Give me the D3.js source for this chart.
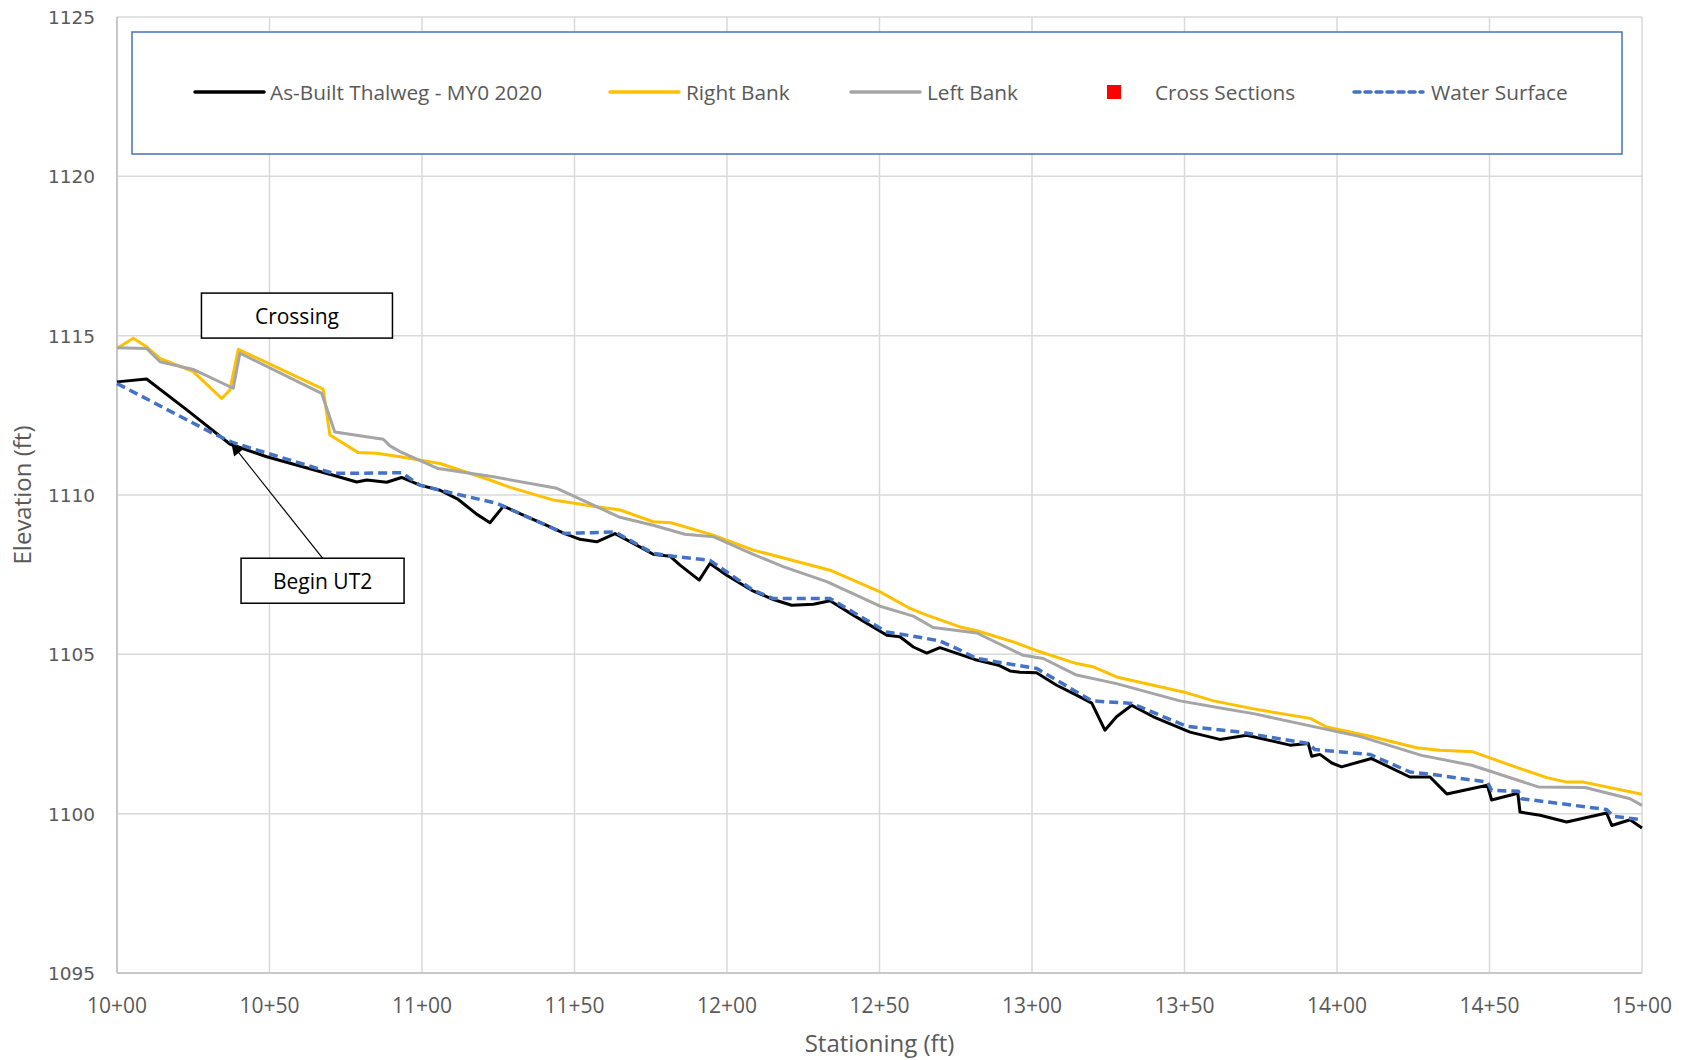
<!DOCTYPE html>
<html>
  <head>
    <script src="https://d3js.org/d3.v7.min.js"></script>
    <style>
      body { margin: 0; background: #fff; }
      text { font-family: "Open Sans", sans-serif; fill: #595959; }
      .grid line { stroke: #d9d9d9; stroke-width: 1.5px; }
      .series { fill: none; stroke-linejoin: round; }
    </style>
  </head>
  <body>
    <svg id="chart" width="1685" height="1060"></svg>

    <script>
      // station (ft) / elevation (ft) pairs
      const thalweg = [
        [1000,1113.55],[1009.7,1113.64],[1022.9,1112.67],[1037.0,1111.60],[1049.1,1111.20],[1070.9,1110.62],
        [1078.6,1110.41],[1081.9,1110.47],[1088.4,1110.40],[1093.3,1110.55],[1099.3,1110.31],[1105.9,1110.15],
        [1111.9,1109.86],[1117.9,1109.40],[1122.3,1109.13],[1126.7,1109.65],[1133.2,1109.37],[1140.9,1109.05],
        [1146.8,1108.79],[1151.8,1108.61],[1157.3,1108.53],[1163.3,1108.79],[1169.3,1108.48],[1175.8,1108.14],
        [1181.3,1108.08],[1184.6,1107.80],[1190.9,1107.33],[1194.4,1107.85],[1199.9,1107.48],[1208.1,1107.01],
        [1215.2,1106.72],[1221.2,1106.54],[1228.3,1106.57],[1233.8,1106.68],[1241.4,1106.23],[1252.4,1105.60],
        [1256.7,1105.55],[1261.1,1105.23],[1265.5,1105.04],[1269.8,1105.21],[1281.9,1104.82],[1289.0,1104.66],
        [1292.8,1104.48],[1296.0,1104.44],[1301.5,1104.42],[1308.1,1104.03],[1314.6,1103.72],[1319.6,1103.47],
        [1323.9,1102.62],[1327.7,1103.04],[1332.7,1103.40],[1339.8,1103.04],[1351.8,1102.56],[1361.6,1102.33],
        [1370.4,1102.46],[1384.6,1102.15],[1390.6,1102.20],[1391.7,1101.80],[1394.4,1101.86],[1398.3,1101.59],
        [1401.5,1101.47],[1411.3,1101.73],[1423.9,1101.15],[1430.5,1101.15],[1436.0,1100.62],[1449.3,1100.89],
        [1450.7,1100.43],[1459.3,1100.64],[1460.0,1100.05],[1466.6,1099.95],[1475.3,1099.74],[1488.4,1100.02],
        [1490.1,1099.63],[1496.1,1099.81],[1500,1099.55]
      ];

      const rightBank = [
        [1000,1114.60],[1005.3,1114.92],[1009.7,1114.65],[1014.1,1114.29],[1025.0,1113.87],[1034.3,1113.03],
        [1037.0,1113.29],[1039.8,1114.57],[1067.6,1113.32],[1069.8,1111.88],[1079.1,1111.33],[1085.1,1111.31],
        [1092.8,1111.20],[1105.9,1110.99],[1122.3,1110.47],[1128.9,1110.24],[1143.1,1109.84],[1156.2,1109.65],
        [1164.9,1109.53],[1175.8,1109.16],[1181.6,1109.13],[1195.5,1108.74],[1208.6,1108.27],[1233.8,1107.64],
        [1250.2,1106.96],[1260.0,1106.44],[1265.5,1106.23],[1276.4,1105.86],[1281.9,1105.74],[1293.9,1105.39],
        [1302.6,1105.08],[1314.6,1104.71],[1320.1,1104.61],[1327.7,1104.29],[1349.6,1103.82],[1359.5,1103.54],
        [1374.8,1103.25],[1391.2,1102.99],[1396.6,1102.72],[1410.8,1102.43],[1426.1,1102.07],[1433.7,1101.99],
        [1444.6,1101.94],[1458.9,1101.45],[1468.8,1101.13],[1475.3,1100.99],[1480.8,1100.99],[1500,1100.61]
      ];

      const leftBank = [
        [1000,1114.62],[1009.7,1114.60],[1014.1,1114.18],[1025.0,1113.94],[1038.1,1113.35],[1040.3,1114.45],
        [1067.1,1113.19],[1071.4,1111.98],[1087.3,1111.75],[1089.5,1111.54],[1092.8,1111.36],[1105.3,1110.83],
        [1123.4,1110.57],[1144.2,1110.21],[1164.9,1109.30],[1175.8,1109.05],[1186.2,1108.77],[1195.5,1108.69],
        [1208.6,1108.14],[1218.4,1107.75],[1232.7,1107.28],[1250.2,1106.51],[1261.1,1106.20],[1267.6,1105.84],
        [1281.9,1105.67],[1297.1,1104.97],[1303.7,1104.87],[1314.6,1104.35],[1327.7,1104.08],[1348.5,1103.54],
        [1362.7,1103.30],[1372.6,1103.14],[1408,1102.41],[1427.7,1101.83],[1444.2,1101.52],[1466.0,1100.84],
        [1481.3,1100.82],[1496.1,1100.47],[1500,1100.26]
      ];

      const waterSurface = [
        [1000,1113.50],[1030.5,1111.98],[1038.1,1111.64],[1070.9,1110.68],[1077.4,1110.68],[1093.3,1110.70],
        [1099.3,1110.31],[1108.1,1110.10],[1124.5,1109.74],[1146.8,1108.79],[1151.8,1108.81],[1163.3,1108.84],
        [1175.8,1108.17],[1182.4,1108.08],[1194.4,1107.95],[1208.6,1107.01],[1215.2,1106.75],[1233.8,1106.75],
        [1252.4,1105.70],[1261.1,1105.57],[1269.8,1105.42],[1276.4,1105.13],[1281.9,1104.87],[1291.7,1104.71],
        [1301.5,1104.56],[1319.6,1103.54],[1332.7,1103.46],[1350.7,1102.74],[1368.2,1102.56],[1390.6,1102.20],
        [1392.8,1102.01],[1410.8,1101.86],[1423.9,1101.31],[1430.5,1101.24],[1449.3,1100.99],[1450.7,1100.73],
        [1459.5,1100.70],[1460.5,1100.47],[1488.4,1100.13],[1490.6,1099.92],[1500,1099.81]
      ];

      const crossSections = []; // legend only, no markers drawn in this reach

      const xTicks = [1000,1050,1100,1150,1200,1250,1300,1350,1400,1450,1500];
      const yTicks = [1095,1100,1105,1110,1115,1120,1125];

      const svg = d3.select("#chart");
      const plotLeft = 117, plotRight = 1642, plotTop = 17, plotBottom = 973;

      const x = d3.scaleLinear().domain([1000, 1500]).range([plotLeft, plotRight]);
      const y = d3.scaleLinear().domain([1095, 1125]).range([plotBottom, plotTop]);

      const station = v => Math.floor(v / 100) + "+" + String(v % 100).padStart(2, "0");

      // gridlines
      svg.append("g").attr("class", "grid")
        .selectAll("line").data(xTicks).join("line")
          .attr("x1", d => x(d)).attr("x2", d => x(d))
          .attr("y1", plotTop).attr("y2", plotBottom);
      svg.append("g").attr("class", "grid")
        .selectAll("line").data(yTicks).join("line")
          .attr("x1", plotLeft).attr("x2", plotRight)
          .attr("y1", d => y(d)).attr("y2", d => y(d));

      // axis lines
      svg.append("line").attr("x1", plotLeft).attr("x2", plotLeft).attr("y1", plotTop).attr("y2", plotBottom)
        .attr("stroke", "#bfbfbf").attr("stroke-width", 1.5);
      svg.append("line").attr("x1", plotLeft).attr("x2", plotRight).attr("y1", plotBottom).attr("y2", plotBottom)
        .attr("stroke", "#bfbfbf").attr("stroke-width", 1.5);

      // tick labels
      svg.append("g").selectAll("text").data(yTicks).join("text")
        .attr("x", 95).attr("y", d => y(d) + 7)
        .attr("text-anchor", "end")
        .style("font-family", "'DejaVu Sans', sans-serif")
        .style("font-size", "18.5px")
        .text(d => d);
      svg.append("g").selectAll("text").data(xTicks).join("text")
        .attr("x", d => x(d)).attr("y", 1013)
        .attr("text-anchor", "middle")
        .style("font-size", "21px")
        .text(d => station(d));

      // axis titles
      svg.append("text")
        .attr("x", (plotLeft + plotRight) / 2).attr("y", 1052)
        .attr("text-anchor", "middle")
        .style("font-size", "24px")
        .text("Stationing (ft)");
      svg.append("text")
        .attr("transform", `translate(31,${(plotTop + plotBottom) / 2}) rotate(-90)`)
        .attr("text-anchor", "middle")
        .style("font-size", "24px")
        .text("Elevation (ft)");

      // series
      const line = d3.line().x(d => x(d[0])).y(d => y(d[1]));
      svg.append("path").datum(rightBank).attr("class", "series")
        .attr("d", line).attr("stroke", "#ffc000").attr("stroke-width", 3);
      svg.append("path").datum(leftBank).attr("class", "series")
        .attr("d", line).attr("stroke", "#a5a5a5").attr("stroke-width", 3);
      svg.append("path").datum(thalweg).attr("class", "series")
        .attr("d", line).attr("stroke", "#000").attr("stroke-width", 3);
      svg.append("path").datum(waterSurface).attr("class", "series")
        .attr("d", line).attr("stroke", "#4472c4").attr("stroke-width", 3.5)
        .attr("stroke-dasharray", "9,5");
      svg.append("g").selectAll("rect").data(crossSections).join("rect")
        .attr("x", d => x(d[0]) - 6).attr("y", d => y(d[1]) - 6)
        .attr("width", 12).attr("height", 12).attr("fill", "#ff0000");

      // legend
      svg.append("rect")
        .attr("x", 132).attr("y", 32).attr("width", 1490).attr("height", 122)
        .attr("fill", "#fff").attr("stroke", "#4472c4").attr("stroke-width", 1.5);
      const legY = 92;
      const legend = [
        {label: "As-Built Thalweg - MY0 2020", color: "#000", x0: 195, tx: 270},
        {label: "Right Bank", color: "#ffc000", x0: 610, tx: 686},
        {label: "Left Bank", color: "#a5a5a5", x0: 851, tx: 927},
        {label: "Cross Sections", color: "#ff0000", x0: 1107, tx: 1155, square: true},
        {label: "Water Surface", color: "#4472c4", x0: 1354, tx: 1431, dash: true}
      ];
      legend.forEach(d => {
        if (d.square) {
          svg.append("rect").attr("x", d.x0).attr("y", legY - 7)
            .attr("width", 14).attr("height", 14).attr("fill", d.color);
        } else {
          svg.append("line").attr("x1", d.x0).attr("x2", d.x0 + 69)
            .attr("y1", legY).attr("y2", legY)
            .attr("stroke", d.color).attr("stroke-width", 3.5)
            .attr("stroke-linecap", "round")
            .attr("stroke-dasharray", d.dash ? "6,5" : null);
        }
        svg.append("text").attr("x", d.tx).attr("y", legY + 7.5)
          .style("font-size", "20.8px").text(d.label);
      });

      // annotations
      const crossing = {sta: 1059, elev: 1115.63, w: 191, h: 45, label: "Crossing"};
      const beginUT2 = {sta: 1067.4, elev: 1107.31, w: 163, h: 45, label: "Begin UT2", tipSta: 1037.5, tipElev: 1111.62};

      svg.append("defs").append("marker")
        .attr("id", "arrow").attr("viewBox", "0 0 10 10")
        .attr("refX", 10).attr("refY", 5)
        .attr("markerWidth", 16).attr("markerHeight", 12)
        .attr("markerUnits", "userSpaceOnUse")
        .attr("orient", "auto")
        .append("path").attr("d", "M0,0 L10,5 L0,10 Z").attr("fill", "#000");

      svg.append("line")
        .attr("x1", x(beginUT2.sta)).attr("y1", y(beginUT2.elev) - beginUT2.h / 2)
        .attr("x2", x(beginUT2.tipSta)).attr("y2", y(beginUT2.tipElev))
        .attr("stroke", "#000").attr("stroke-width", 1.2)
        .attr("marker-end", "url(#arrow)");

      [crossing, beginUT2].forEach(a => {
        svg.append("rect")
          .attr("x", x(a.sta) - a.w / 2).attr("y", y(a.elev) - a.h / 2)
          .attr("width", a.w).attr("height", a.h)
          .attr("fill", "#fff").attr("stroke", "#000").attr("stroke-width", 1.5);
        svg.append("text")
          .attr("x", x(a.sta)).attr("y", y(a.elev) + 8)
          .attr("text-anchor", "middle")
          .style("font-size", "21px").style("fill", "#000")
          .text(a.label);
      });
    </script>
  </body>
</html>
